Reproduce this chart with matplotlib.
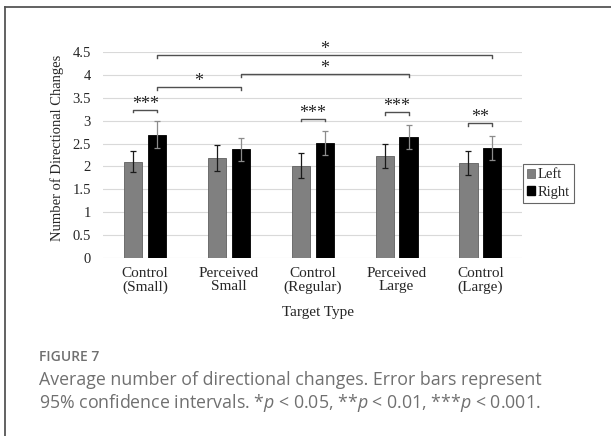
import matplotlib
matplotlib.use("Agg")
import matplotlib.pyplot as plt
import numpy as np
from matplotlib.patches import Patch
from matplotlib.lines import Line2D

# data
categories = ["Control\n(Small)", "Perceived\nSmall", "Control\n(Regular)",
              "Perceived\nLarge", "Control\n(Large)"]
left_means = [2.10, 2.19, 2.02, 2.23, 2.08]
left_err = [0.23, 0.28, 0.28, 0.26, 0.26]
right_means = [2.69, 2.37, 2.51, 2.64, 2.41]
right_err = [0.29, 0.24, 0.27, 0.26, 0.26]

# left vs right within each target type
pair_height = [3.24, None, 3.04, 3.19, 2.94]
pair_stars = ["***", "", "***", "***", "**"]

# between target types (Right bars): (from group, to group, height, stars)
cmp_from = [0, 1, 0]
cmp_to = [4, 3, 1]
cmp_height = [4.42, 4.01, 3.73]
cmp_stars = ["*", "*", "*"]

yticks = [0, 0.5, 1, 1.5, 2, 2.5, 3, 3.5, 4, 4.5]

W, H = 611, 436
fig = plt.figure(figsize=(W / 100, H / 100), dpi=100)
fig.patch.set_facecolor("white")

serif = "Liberation Serif"
txt_col = "#262626"

ax = fig.add_axes([103.3 / W, 1 - 258.3 / H, 419 / W, 206.6 / H])
x = np.arange(len(categories))
bw = 0.217
off = 0.143

ax.bar(x - off, left_means, bw, color="#808080", edgecolor="#606060", linewidth=0.6, zorder=3)
ax.bar(x + off, right_means, bw, color="black", edgecolor="black", linewidth=0.6, zorder=3)
ax.errorbar(x - off, left_means, yerr=left_err, fmt="none", ecolor="#1a1a1a",
            elinewidth=0.9, capsize=2.2, capthick=0.9, zorder=4)
ax.errorbar(x + off, right_means, yerr=right_err, fmt="none", ecolor="#8c8c8c",
            elinewidth=0.9, capsize=2.2, capthick=0.9, zorder=4)

ax.set_xlim(-0.5, len(categories) - 0.5)
ax.set_ylim(0, 4.5)
ax.set_yticks(yticks)
ax.set_yticklabels([f"{t:g}" for t in yticks], fontfamily=serif, fontsize=10.5, color=txt_col)
ax.set_xticks(x)
ax.set_xticklabels(categories, fontfamily=serif, fontsize=11, color=txt_col, linespacing=1.05)
ax.tick_params(axis="both", length=0)
ax.tick_params(axis="y", pad=9)
ax.tick_params(axis="x", pad=6)
for s in ax.spines.values():
    s.set_visible(False)
ax.grid(axis="y", color="#d9d9d9", linewidth=0.8, zorder=0)
ax.set_axisbelow(True)

brk_col = "#505050"
tick = 0.06


def bracket(x0, x1, y, label):
    ax.plot([x0, x0, x1, x1], [y - tick, y, y, y - tick], color=brk_col,
            linewidth=1.0, clip_on=False, zorder=5)
    ax.text((x0 + x1) / 2, y + 0.02, label, ha="center", va="baseline",
            fontfamily=serif, fontsize=13, color=txt_col, clip_on=False)


for i, (h, s) in enumerate(zip(pair_height, pair_stars)):
    if h is not None:
        bracket(x[i] - off, x[i] + off, h, s)

for a, b, h, s in zip(cmp_from, cmp_to, cmp_height, cmp_stars):
    bracket(x[a] + off, x[b] + off, h, s)

handles = [Patch(facecolor="#808080", edgecolor="#606060", linewidth=0.5),
           Patch(facecolor="black", edgecolor="black")]
leg = fig.legend(handles, ["Left", "Right"], loc="upper left",
                 bbox_to_anchor=(522.7 / W, 1 - 164 / H),
                 prop={"family": serif, "size": 10.5}, frameon=True, fancybox=False,
                 handlelength=0.55, handleheight=0.55, handletextpad=0.15,
                 borderpad=0.3, labelspacing=0.3, borderaxespad=0)
leg.get_frame().set_edgecolor("#404040")
leg.get_frame().set_linewidth(0.8)
for t in leg.get_texts():
    t.set_color(txt_col)

fig.text(56.7 / W, 1 - 148 / H, "Number of Directional Changes", rotation=90,
         ha="center", va="center", fontfamily=serif, fontsize=10.5, color=txt_col)
fig.text(318 / W, 1 - 312.7 / H, "Target Type", ha="center", va="center",
         fontfamily=serif, fontsize=11, color=txt_col)

# frame around the figure panel (runs off the right and bottom)
fig.add_artist(Line2D([4.7 / W, 4.7 / W], [1 - 7.3 / H, -0.05], color="#555555",
                      linewidth=1.3, transform=fig.transFigure))
fig.add_artist(Line2D([4.7 / W, 1.05], [1 - 7.3 / H, 1 - 7.3 / H], color="#555555",
                      linewidth=1.3, transform=fig.transFigure))

# caption
plt.rcParams["mathtext.fontset"] = "custom"
plt.rcParams["mathtext.rm"] = "Open Sans"
plt.rcParams["mathtext.it"] = "Open Sans:italic"
cap_col = "#707070"
fig.text(39.3 / W, 1 - 360.7 / H, "FIGURE 7", ha="left", va="baseline",
         fontfamily="Open Sans", fontsize=10, fontweight="semibold", color=cap_col)
fig.text(39.3 / W, 1 - 385 / H,
         "Average number of directional changes. Error bars represent",
         ha="left", va="baseline", fontfamily="Open Sans", fontsize=12.8, color=cap_col)
fig.text(39.3 / W, 1 - 408 / H,
         "95% confidence intervals. *$p$ < 0.05, **$p$ < 0.01, ***$p$ < 0.001.",
         ha="left", va="baseline", fontfamily="Open Sans", fontsize=12.8, color=cap_col)

fig.savefig("out.png", dpi=100, facecolor="white")
